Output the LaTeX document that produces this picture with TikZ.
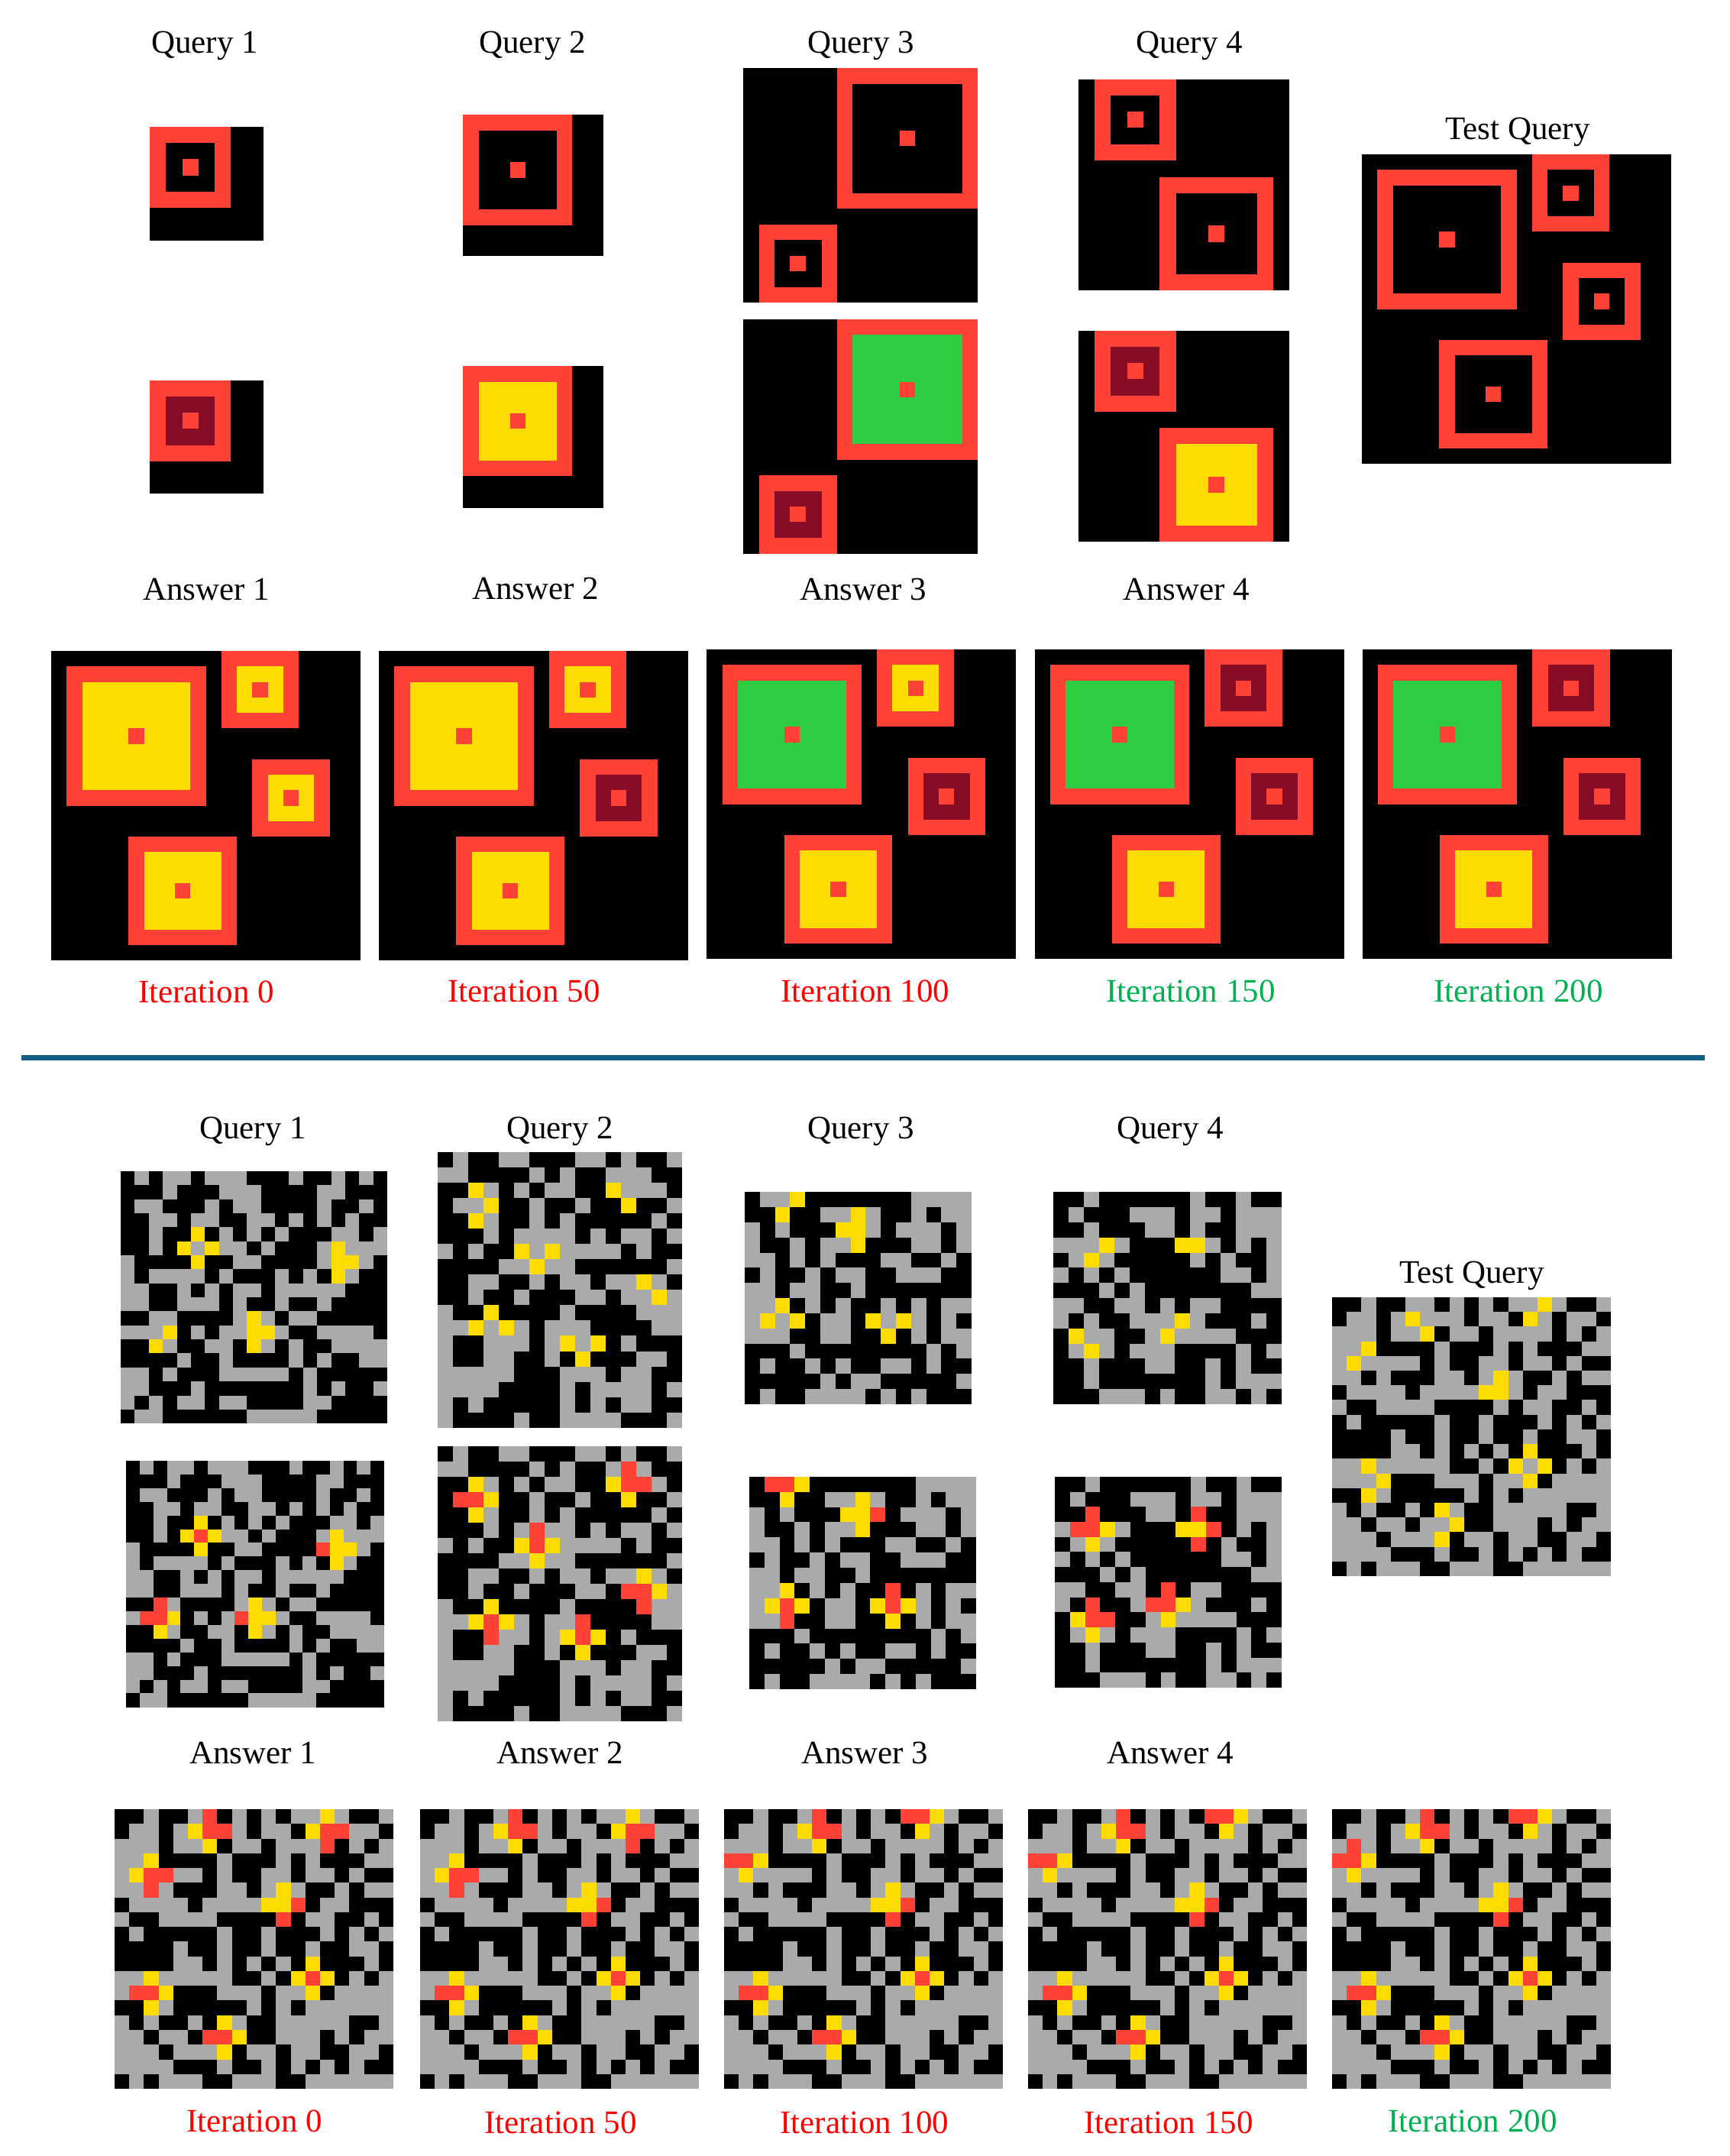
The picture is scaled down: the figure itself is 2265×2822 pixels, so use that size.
\documentclass[tikz,border=0pt]{standalone}
\usepackage{fontspec}
\setmainfont{Liberation Serif}
\definecolor{cellk}{HTML}{000000}
\definecolor{cellg}{HTML}{AAAAAA}
\definecolor{celly}{HTML}{FFDC00}
\definecolor{cellr}{HTML}{FF4136}
\definecolor{cellm}{HTML}{870C25}
\definecolor{cellv}{HTML}{2ECC40}
\definecolor{rulecol}{HTML}{155E85}
\definecolor{txtgood}{HTML}{00B050}
\tikzset{
  lab/.style={anchor=base,inner sep=0pt,font=\fontsize{43}{50}\selectfont},
  labbad/.style={lab,text=red},
  labgood/.style={lab,text=txtgood}
}
\newcount\cj
\newcommand{\parsecell}[1]{%
  \ifx#1\relax\else
    \pgfmathsetmacro\xa{\gx+\cj*\gcw}%
    \pgfmathsetmacro\xb{\xa+\gcw+0.25}%
    \fill[cell#1] (\xa,\ya) rectangle (\xb,\yb);%
    \advance\cj by 1
    \expandafter\parsecell
  \fi}
\newcommand{\pgrid}[7]{%
  \pgfmathsetmacro\gx{#1}\pgfmathsetmacro\gy{#2}%
  \pgfmathsetmacro\gcw{(#3-#1)/#5}\pgfmathsetmacro\gch{(#4-#2)/#6}%
  \foreach \rw [count=\rj from 0] in #7 {%
    \pgfmathsetmacro\ya{\gy+\rj*\gch}%
    \pgfmathsetmacro\yb{\ya+\gch+0.25}%
    \cj=0
    \expandafter\parsecell\rw\relax
  }}
\newcommand{\ovlay}[1]{%
  \edef\ovtmp{#1}%
  \foreach \ovr/\ovc in \ovtmp {%
    \pgfmathsetmacro\xa{\gx+\ovc*\gcw}\pgfmathsetmacro\ya{\gy+\ovr*\gch}%
    \fill[cellr] (\xa,\ya) rectangle ++(\gcw,\gch);
  }}
% ring: outer corners, inner corners, inner colour (centre set by \ringdot)
\newcommand{\ringbox}[9]{%
  \fill[cellr] (#1,#2) rectangle (#3,#4);
  \fill[#9] (#5,#6) rectangle (#7,#8);
  \ringcentre}
\newcommand{\ringdot}[4]{\def\ringcentre{\fill[cellr] (#1,#2) rectangle (#3,#4);}}
\newcommand{\tpanel}[6]{%
  \begin{scope}[shift={(#1,#2)},x=20.25pt,y=-20.25pt]
    \fill[black] (0,0) rectangle (20,20);
    \ringdot{5}{5}{6}{6}\ringbox{1}{1}{10}{10}{2}{2}{9}{9}{#3}
    \ringdot{13}{2}{14}{3}\ringbox{11}{0}{16}{5}{12}{1}{15}{4}{#4}
    \ringdot{15}{9}{16}{10}\ringbox{13}{7}{18}{12}{14}{8}{17}{11}{#5}
    \ringdot{8}{15}{9}{16}\ringbox{5}{12}{12}{19}{6}{13}{11}{18}{#6}
  \end{scope}}
\def\gridA{kgkggkgggkkkgkkgkgk,kkkgkkkgggkkkkggkkk,kggkkkgkggkkkkgkkgk,kkggkggkkggkgkgkgkk,kkgkkykgkgkgkkkggkg,kkgkygyggkgkkkgyggg,gkkkkykkggkkkkgyygk,gkggggkgkkkgkgkygkk,ggkkgkgkggkgggggkkk,ggkkgggkgkkgkkgkkkk,kkggkkkkgygkggkkkkk,gggykgkggyygkkggggk,kkygkkggkygkgkkgggg,kkkkgkkgkkkkgkgkkgg,ggkgkkkgggggkgkkkkk,ggkkkgkkkkkkkgkgkkg,gkgkggkggkkkkggkkkk,kggkkkkkkgggggkkkkk}
\def\gridB{kgkkggkkkggkgkkg,ggkkkkgkgkkgggkk,kkygkgkggkkygggk,kggykkgkkgkkykkg,kkygkkgkgkkkkkgk,kkkgkggggkgkggkg,gkgkkygyggggkgkk,kkkkggyggkkkkkkg,kkggkkgkggkggygk,kkgkkgkkkggkggyg,gkkykkkkgkkkkggg,ggygygkgggkkkkgg,gkkgggkgygykgkkk,gkkggkkgkykkkggk,gggggkkkgggkggkk,ggggkkkkgkggggkg,gkgkkkkkgkgkggkk,gkkkkgkkggggkkkg}
\def\gridC{kggykkkkkkkgggg,kkykkggygkkgkgg,gkgkkkyygkgggkg,gkkgkggykkkggkg,ggkgkgkkkggkkgk,kgkkgkggkkgggkk,ggkggkkgkkkkkkk,ggykgkgkkgkgkgg,gygykggkygygkgk,gggkkggkkykgkgg,kkkgkkkkkkkkgkg,kgkkgkgkkggkgkk,kkkkkgkggkkkkkg,kgkkggggkgkgkkk}
\def\gridD{kkgkkkkkkgkkgkk,kgkkkgggkggkggg,kkgkkkggkgkkggg,gggygkkkyygkgkg,kgygkkkkkgkgkkg,gkgkgkkkkkkggkg,kkkgkgkkkkkkkgg,ggkkggkgkggkkkk,gkgkkgggygkkkgk,kyggkkgyggggkkk,kgygkgggkkkkgkg,kkgkkkggkkgkgkk,kkgkkkkkkkgkggg,kkkgggkgkkggkgk}
\def\gridT{kkgkkggkgkgkggygkkg,kggkgygggkggkygkggk,gggkggykggkggggkgkg,ggykkkkgkkkgkgkkkgg,gyggggkgkkggkggkgkk,ggkgkkkggkgygkkgkgg,kggggkggggyygkggkkk,gkkggggkkkkgkggkkgk,kgkkkkkgkkgkkkgkgkg,kkkkgkkgkkgkkgkkggk,kkkkggkgkgkgkykkkgk,ggygggggkkgkygykgkg,gggykkkgggkggykgggg,kkygkkkkkgkgkgggggg,gkgkkgkygkkgggggkkg,ggkggkggykkgggkgkgg,gggkgggykggkggkkggk,ggggkkkgkkgkgkgkgkk,kgkgggkkgggkkgggggg}
\begin{document}
\begin{tikzpicture}[x=1pt,y=-1pt]
\useasboundingbox (0,0) rectangle (2265,2822);
% ---------- upper panel: queries ----------
\node[lab] (tq1) at (268,69) {Query 1};
\node[lab] (tq2) at (697,69) {Query 2};
\node[lab] (tq3) at (1127,69) {Query 3};
\node[lab] (tq4) at (1557,69) {Query 4};
\node[lab] (ttq) at (1987,182) {Test Query};
\fill[black] (195.8,165.8) rectangle (345,315);
\ringdot{238.5}{208.4}{260}{229.8}\ringbox{195.8}{165.8}{302.3}{272}{216.8}{187}{281.3}{251}{black}
\fill[black] (195.8,497.8) rectangle (345,646);
\ringdot{238.5}{540}{260}{561.3}\ringbox{195.8}{497.8}{302.3}{603.5}{216.8}{519}{281.3}{582.6}{cellm}
\fill[black] (605.9,149.8) rectangle (790,335.4);
\ringdot{667.7}{211.8}{688}{232.7}\ringbox{605.9}{149.8}{748.7}{294.7}{626.9}{170.6}{729}{273.9}{black}
\fill[black] (605.9,478.9) rectangle (790,665);
\ringdot{667.7}{541}{688}{561.3}\ringbox{605.9}{478.9}{748.7}{623.4}{626.9}{499.8}{729}{603}{celly}
\begin{scope}
\fill[black] (972.6,89.2) rectangle (1279.6,396);
\ringdot{1178}{171}{1198}{191}\ringbox{1096}{89.2}{1279.6}{272.9}{1116}{109.5}{1259.5}{252.5}{black}
\ringdot{1033.9}{334.5}{1054.8}{354.8}\ringbox{993.6}{293.7}{1096}{396}{1013.7}{314}{1075.8}{375.7}{black}
\end{scope}
\begin{scope}[shift={(0,328.6)}]
\fill[black] (972.6,89.2) rectangle (1279.6,396);
\ringdot{1178}{171}{1198}{191}\ringbox{1096}{89.2}{1279.6}{272.9}{1116}{109.5}{1259.5}{252.5}{cellv}
\ringdot{1033.9}{334.5}{1054.8}{354.8}\ringbox{993.6}{293.7}{1096}{396}{1013.7}{314}{1075.8}{375.7}{cellm}
\end{scope}
\begin{scope}
\fill[black] (1412,104.2) rectangle (1688,380);
\ringdot{1475.8}{146.4}{1496.8}{167.2}\ringbox{1433}{104.2}{1539.6}{209.9}{1454}{125}{1517.8}{189}{black}
\ringdot{1582.3}{295.2}{1603.3}{316.5}\ringbox{1517.8}{231.7}{1667}{380}{1539.6}{252.5}{1646}{359.2}{black}
\end{scope}
\begin{scope}[shift={(0,328.7)}]
\fill[black] (1412,104.2) rectangle (1688,380);
\ringdot{1475.8}{146.4}{1496.8}{167.2}\ringbox{1433}{104.2}{1539.6}{209.9}{1454}{125}{1517.8}{189}{cellm}
\ringdot{1582.3}{295.2}{1603.3}{316.5}\ringbox{1517.8}{231.7}{1667}{380}{1539.6}{252.5}{1646}{359.2}{celly}
\end{scope}
\tpanel{1783}{202}{black}{black}{black}{black}
\node[lab] (ta1) at (270,785) {Answer 1};
\node[lab] (ta2) at (701,784) {Answer 2};
\node[lab] (ta3) at (1130,785) {Answer 3};
\node[lab] (ta4) at (1553,785) {Answer 4};
% ---------- upper panel: iterations ----------
\tpanel{67}{852}{celly}{celly}{celly}{celly}
\tpanel{496}{852}{celly}{celly}{cellm}{celly}
\tpanel{925.4}{850}{cellv}{celly}{cellm}{celly}
\tpanel{1354.6}{850}{cellv}{cellm}{cellm}{celly}
\tpanel{1783.5}{850}{cellv}{cellm}{cellm}{celly}
\node[labbad] (it1) at (270,1312) {Iteration 0};
\node[labbad] (it2) at (686,1311) {Iteration 50};
\node[labbad] (it3) at (1133,1311) {Iteration 100};
\node[labgood] (it4) at (1559,1311) {Iteration 150};
\node[labgood] (it5) at (1988,1311) {Iteration 200};
% ---------- divider ----------
\coordinate (ruleL) at (28,1384.5);
\coordinate (ruleR) at (2232,1384.5);
\draw[rulecol,line width=7pt] (ruleL) -- (ruleR);
% ---------- lower panel ----------
\node[lab] (lq1) at (331,1490) {Query 1};
\node[lab] (lq2) at (733,1490) {Query 2};
\node[lab] (lq3) at (1127,1490) {Query 3};
\node[lab] (lq4) at (1532,1490) {Query 4};
\node[lab] (ltq) at (1927,1679) {Test Query};
\pgrid{158.1}{1532.8}{507}{1863.2}{19}{18}{\gridA}
\pgrid{165.2}{1912}{503}{2234.3}{19}{18}{\gridA}
\ovlay{5/5,6/14,10/2,11/1,11/2,11/8}
\pgrid{572.9}{1508}{892.8}{1868.7}{16}{18}{\gridB}
\pgrid{572.9}{1893}{892.8}{2253}{16}{18}{\gridB}
\ovlay{1/12,2/12,2/13,3/1,3/2,5/6,6/6,9/12,9/13,10/13,11/3,12/3,11/9,12/9}
\pgrid{975}{1560.2}{1272}{1837.8}{15}{14}{\gridC}
\pgrid{981.1}{1932.8}{1278}{2211}{15}{14}{\gridC}
\ovlay{0/1,0/2,2/8,7/9,8/2,9/2,8/9}
\pgrid{1379}{1560.2}{1678}{1837.8}{15}{14}{\gridD}
\pgrid{1381}{1932.8}{1678}{2209}{15}{14}{\gridD}
\ovlay{2/2,2/9,3/1,3/2,3/10,4/9,7/7,8/2,8/6,8/7,9/2,9/3}
\pgrid{1744}{1698}{2109}{2063}{19}{19}{\gridT}
\node[lab] (la1) at (331,2308) {Answer 1};
\node[lab] (la2) at (733,2308) {Answer 2};
\node[lab] (la3) at (1132,2308) {Answer 3};
\node[lab] (la4) at (1532,2308) {Answer 4};
\def\ovbase{0/6,1/6,1/7,6/12,7/11,11/13,12/1,12/2,15/6,15/7}
\pgrid{150}{2368}{515}{2734}{19}{19}{\gridT}
\ovlay{\ovbase,1/14,1/15,2/14,4/2,4/3,5/2}
\pgrid{550}{2368}{915}{2734}{19}{19}{\gridT}
\ovlay{\ovbase,1/14,1/15,2/14,4/2,4/3,5/2}
\pgrid{948}{2368}{1313}{2734}{19}{19}{\gridT}
\ovlay{\ovbase,0/12,0/13,3/0,3/1}
\pgrid{1346}{2368}{1711}{2734}{19}{19}{\gridT}
\ovlay{\ovbase,0/12,0/13,3/0,3/1}
\pgrid{1744}{2368}{2109}{2734}{19}{19}{\gridT}
\ovlay{\ovbase,0/12,0/13,3/0,3/1,2/1}
\node[labbad] (li1) at (333,2790) {Iteration 0};
\node[labbad] (li2) at (734,2792) {Iteration 50};
\node[labbad] (li3) at (1132,2792) {Iteration 100};
\node[labbad] (li4) at (1530,2792) {Iteration 150};
\node[labgood] (li5) at (1928,2790) {Iteration 200};
\end{tikzpicture}
\end{document}
